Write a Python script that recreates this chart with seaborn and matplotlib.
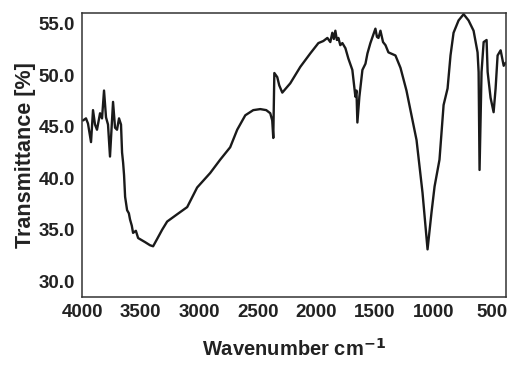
import matplotlib
matplotlib.use("Agg")
import matplotlib.pyplot as plt
import seaborn as sns

# FTIR spectrum, values
wavenumber = [3991, 3966, 3949, 3923, 3906, 3889, 3872, 3846, 3829, 3812,
              3795, 3778, 3761, 3735, 3718, 3701, 3684, 3667, 3658, 3649,
              3641, 3632, 3615, 3600, 3590, 3575, 3564, 3540, 3521, 3461,
              3419, 3393, 3359, 3316, 3273, 3188, 3102, 3017, 2906, 2820,
              2735, 2675, 2606, 2538, 2478, 2427, 2393, 2376, 2367, 2358,
              2333, 2316, 2290, 2222, 2136, 2051, 1982, 1940, 1905, 1880,
              1863, 1850, 1837, 1824, 1811, 1795, 1777, 1751, 1726, 1692,
              1666, 1657, 1649, 1632, 1606, 1580, 1563, 1538, 1495, 1482,
              1469, 1452, 1430, 1409, 1384, 1324, 1281, 1230, 1144, 1093,
              1050, 1016, 990, 948, 913, 879, 854, 828, 785, 742,
              700, 657, 623, 614, 606, 589, 571, 546, 537, 512,
              486, 469, 452, 426, 400, 383]
transmittance = [45.6, 45.8, 45.3, 43.5, 46.6, 45.2, 44.7, 46.3, 45.8, 48.5,
                 45.9, 45.2, 42.1, 47.4, 44.9, 44.7, 45.8, 45.2, 42.5, 41.5,
                 40.3, 38.2, 36.9, 36.6, 36.0, 35.4, 34.7, 34.9, 34.2, 33.8,
                 33.5, 33.4, 34.1, 35.0, 35.8, 36.5, 37.2, 39.1, 40.5, 41.8,
                 43.0, 44.7, 46.1, 46.6, 46.7, 46.6, 46.3, 45.6, 43.9, 50.2,
                 49.8, 49.0, 48.3, 49.2, 50.8, 52.1, 53.1, 53.3, 53.6, 53.2,
                 54.1, 53.5, 54.3, 53.4, 53.6, 52.9, 53.1, 52.6, 51.6, 50.5,
                 47.9, 48.5, 45.4, 47.9, 50.5, 51.1, 52.1, 53.1, 54.5, 53.7,
                 53.6, 54.3, 53.2, 52.9, 52.2, 51.9, 50.7, 48.5, 43.7, 38.6,
                 33.1, 36.7, 39.2, 41.8, 47.1, 48.7, 51.9, 54.1, 55.3, 55.9,
                 55.3, 54.3, 52.2, 50.3, 40.8, 50.3, 53.2, 53.4, 50.3, 47.8,
                 46.4, 48.7, 51.9, 52.4, 50.9, 51.2]

x_ticks = [4000, 3500, 3000, 2500, 2000, 1500, 1000, 500]
y_ticks = [30, 35, 40, 45, 50, 55]

sns.set_style("white")
plt.rcParams['font.family'] = ['Liberation Sans', 'DejaVu Sans']
plt.rcParams['font.weight'] = 'bold'

fig = plt.figure(figsize=(5.19, 3.66), dpi=100)
ax = fig.add_axes([0.158, 0.189, 0.817, 0.775])

sns.lineplot(x=wavenumber, y=transmittance, sort=False, estimator=None,
             color="#1a1a1a", linewidth=1.7, ax=ax)

ax.set_xlim(4000, 380)
ax.set_ylim(28.5, 56)
ax.set_xticks(x_ticks)
ax.set_yticks(y_ticks)
ax.set_yticklabels([f"{v:.1f}" for v in y_ticks])

ax.tick_params(direction="out", length=3, width=1, pad=2,
               labelsize=13.5, colors="#222222")
for lab in ax.get_xticklabels() + ax.get_yticklabels():
    lab.set_fontweight("bold")

for sp in ax.spines.values():
    sp.set_color("#333333")
    sp.set_linewidth(1.1)

ax.set_xlabel("Wavenumber cm$^{\\mathbf{-1}}$", fontsize=14.5, fontweight="bold",
              color="#222222", labelpad=12)
ax.set_ylabel("Transmittance [%]", fontsize=15.5, fontweight="bold",
              color="#222222", labelpad=2)

fig.savefig("out.png", dpi=100)
